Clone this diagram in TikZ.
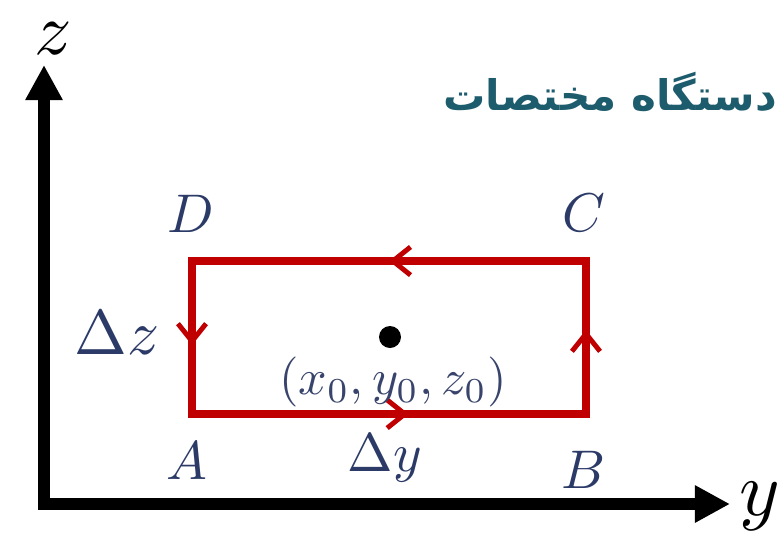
\documentclass[tikz,border=0pt]{standalone}
\usepackage{fontspec}
\usetikzlibrary{arrows.meta,decorations.markings}
\TeXXeTstate=1
\newfontfamily\persianfont[Script=Arabic]{DejaVu Sans}
\definecolor{Loop}{HTML}{C00000}
\definecolor{Navy}{HTML}{2C3A68}
\definecolor{Teal}{HTML}{1D5C6C}
\begin{document}
\begin{tikzpicture}[x=0.02cm,y=-0.02cm,
  lbl/.style={text=Navy,scale=#1},lbl/.default=3.1,
  loopside/.style={draw=Loop,line width=4.5pt,line cap=rect,
    postaction={decorate,decoration={markings,
      mark=at position #1 with {\arrow{Straight Barb[length=10pt,width=16pt,line width=2.8pt]}}}}}]
  \useasboundingbox (0,0) rectangle (778,535);
  % axes
  \coordinate (ztip) at (44,65);
  \coordinate (orig) at (44,504);
  \coordinate (ytip) at (730,504);
  \draw[line width=6.3pt,{Triangle[length=20pt,width=20pt]}-{Triangle[length=20pt,width=20pt]}] (ztip) -- (orig) -- (ytip);
  \node[scale=4.2,inner sep=0pt] (zlab) at (53,39) {$z$};
  \node[scale=4.4,inner sep=0pt] (ylab) at (760,506) {$y$};
  % loop corners
  \coordinate (pA) at (192,414);
  \coordinate (pB) at (586,414);
  \coordinate (pC) at (586,261);
  \coordinate (pD) at (192,261);
  \draw[loopside=0.55] (pA) -- (pB);
  \draw[loopside=0.55] (pB) -- (pC);
  \draw[loopside=0.5] (pC) -- (pD);
  \draw[loopside=0.55] (pD) -- (pA);
  \fill (390,337) coordinate (ctr) circle[radius=0.22cm];
  \node[lbl=2.85,text=Navy!85!gray] (ctrlab) at (393,382) {$(x_0,y_0,z_0)$};
  % labels
  \node[lbl] (A) at (187,461) {$A$};
  \node[lbl] (B) at (584,470) {$B$};
  \node[lbl] (C) at (584,213) {$C$};
  \node[lbl] (D) at (191,214) {$D$};
  \node[lbl=3.6] (dz) at (117,333) {$\Delta z$};
  \node[lbl] (dy) at (385,458) {$\Delta y$};
  \node[anchor=east,text=Teal,font=\persianfont\bfseries\fontsize{24}{28}\selectfont] (title) at (783,92) {\beginR دستگاه مختصات\endR};
\end{tikzpicture}
\end{document}
